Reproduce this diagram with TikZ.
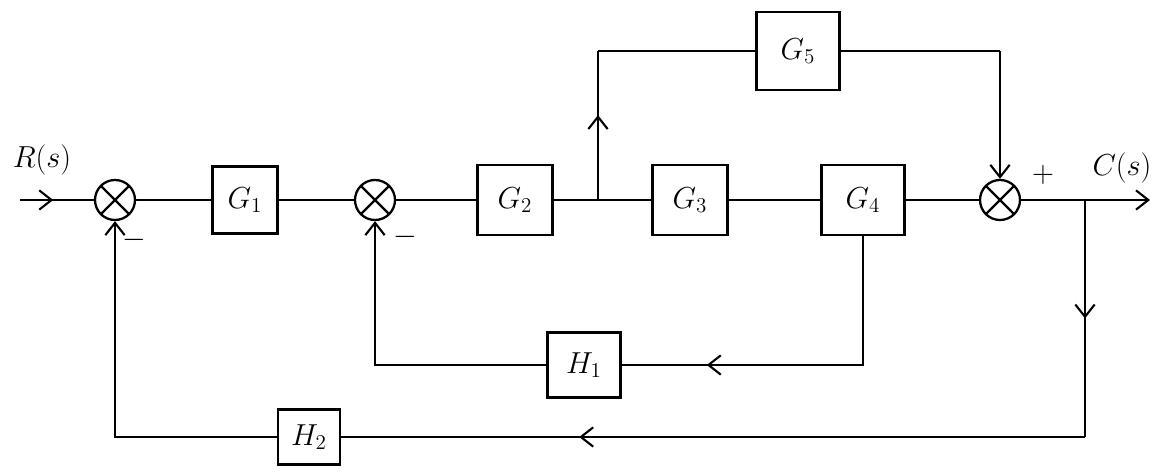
\documentclass[tikz,border=0pt]{standalone}
\usepackage{amsmath}
\usetikzlibrary{arrows.meta,decorations.markings}

\tikzset{
  blk/.style={draw, line width=1.3pt, minimum width=1.5cm, minimum height=1.4cm, inner sep=0pt},
  sumj/.style={draw, circle, line width=1.3pt, minimum size=0.8cm, inner sep=0pt,
    path picture={\draw[line width=1.3pt] (path picture bounding box.north west) -- (path picture bounding box.south east)
      (path picture bounding box.north east) -- (path picture bounding box.south west);}},
  tip/.style={-{Straight Barb[length=7pt,width=11pt]}},
  midtip/.style={postaction={decorate}, decoration={markings,
    mark=at position #1 with {\arrow{Straight Barb[length=7pt,width=11pt]}}}},
}

\begin{document}
\begin{tikzpicture}[x=0.02cm, y=-0.02cm, line width=1.2pt, font=\fontsize{18}{22}\selectfont]
  \useasboundingbox (0,0) rectangle (1153,472);
  % forward path
  \coordinate (in) at (20,200);
  \node[sumj] (s1) at (115,200) {};
  \node[blk, minimum width=1.3cm, minimum height=1.34cm] (g1) at (245,200) {$G_1$};
  \node[sumj] (s2) at (375,200) {};
  \node[blk] (g2) at (515,200) {$G_2$};
  \coordinate (b1) at (598,200);
  \node[blk] (g3) at (690,200) {$G_3$};
  \node[blk, minimum width=1.66cm] (g4) at (863,200) {$G_4$};
  \node[sumj] (s3) at (1000,200) {};
  \coordinate (b2) at (1085,200);
  \coordinate (out) at (1150,200);
  % parallel branch
  \node[blk, minimum width=1.66cm, minimum height=1.56cm] (g5) at (798,51) {$G_5$};
  \coordinate (t1) at (b1 |- g5);
  \coordinate (t2) at (s3 |- g5);
  % feedback paths
  \node[blk, minimum width=1.46cm, minimum height=1.3cm] (h1) at (584,365) {$H_1$};
  \coordinate (f1) at (g4 |- h1);
  \coordinate (f2) at (s2 |- h1);
  \node[blk, minimum width=1.24cm, minimum height=1.1cm] (h2) at (309,437) {$H_2$};
  \coordinate (r1) at (b2 |- h2);
  \coordinate (r2) at (s1 |- h2);

  \draw[midtip=0.45] (in) -- (s1);
  \draw (s1) -- (g1) (g1) -- (s2) (s2) -- (g2) (g2) -- (g3) (g3) -- (g4) (g4) -- (s3);
  \draw[tip] (s3) -- (out);

  \draw[midtip=0.57] (b1) -- (t1);
  \draw (t1) -- (g5) (g5) -- (t2);
  \draw[tip] (t2) -- (s3);

  \draw[midtip=0.77] (g4) -- (f1) -- (h1);
  \draw[tip] (h1) -- (f2) -- (s2);

  \draw[midtip=0.5] (b2) -- (r1);
  \draw[midtip=0.68] (r1) -- (h2);
  \draw[tip] (h2) -- (r2) -- (s1);

  \node (rs) at (42,160) {$R(s)$};
  \node (cs) at (1122,168) {$C(s)$};
  \node (p3) at (1043,175) {$+$};
  \node (m1) at (134,240) {$-$};
  \node (m2) at (405,237) {$-$};
\end{tikzpicture}
\end{document}
